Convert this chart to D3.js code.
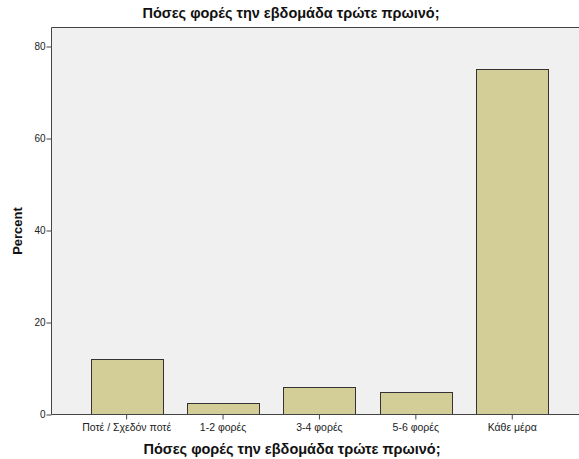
<!DOCTYPE html>
<html>
<head>
<meta charset="utf-8">
<script src="https://cdn.jsdelivr.net/npm/d3@7"></script>
<style>
  html, body { margin: 0; background: #fff; overflow: hidden; }
  svg { display: block; }
  text { font-family: "Liberation Sans", Arial, sans-serif; }
</style>
</head>
<body>
<div id="chart"></div>
<script>
// values
var categories = ["Ποτέ / Σχεδόν ποτέ", "1-2 φορές", "3-4 φορές", "5-6 φορές", "Κάθε μέρα"];
var percents = [12.0, 2.5, 5.9, 4.8, 75.1];
var yTicks = [0, 20, 40, 60, 80];
var chartTitle = "Πόσες φορές την εβδομάδα τρώτε πρωινό;";

var width = 579, height = 459;

var svg = d3.select("#chart").append("svg")
  .attr("width", width)
  .attr("height", height);

// plot frame (note: "top" is taken by window.top, so use other names)
var plotLeft = 51.5, plotTop = 27.5, plotRight = 579, plotBottom = 414.5;

// background only, borders drawn separately (no right border in the original)
svg.append("rect")
  .attr("x", plotLeft)
  .attr("y", plotTop)
  .attr("width", plotRight - plotLeft)
  .attr("height", plotBottom - plotTop)
  .attr("fill", "#f0f0f0");

svg.append("line")
  .attr("x1", plotLeft).attr("x2", plotRight)
  .attr("y1", plotTop).attr("y2", plotTop)
  .attr("stroke", "#444");

var y = d3.scaleLinear().domain([0, 80]).range([plotBottom, 46.5]);

var x = d3.scaleBand()
  .domain(categories)
  .range([66.4, 572.5])
  .padding(0.25);

// bars
svg.append("g").selectAll("rect")
  .data(percents)
  .enter().append("rect")
    .attr("x", function(d, i) { return Math.round(x(categories[i])) + 0.5; })
    .attr("y", function(d) { return Math.round(y(d)) + 0.5; })
    .attr("width", Math.round(x.bandwidth()))
    .attr("height", function(d) { return plotBottom - Math.round(y(d)) - 0.5; })
    .attr("fill", "#d3ce97")
    .attr("stroke", "#333")
    .attr("stroke-width", 1);

svg.append("line")
  .attr("x1", plotLeft).attr("x2", plotRight)
  .attr("y1", plotBottom).attr("y2", plotBottom)
  .attr("stroke", "#444");

// y axis
var yAxis = svg.append("g")
  .attr("transform", "translate(" + plotLeft + ",0)")
  .call(d3.axisLeft(y).tickValues(yTicks).tickSize(5).tickPadding(1).tickSizeOuter(0));
yAxis.select(".domain").attr("stroke", "#444").attr("d", "M0," + plotTop + "V" + plotBottom);
yAxis.selectAll(".tick line").attr("stroke", "#444");
yAxis.selectAll(".tick text")
  .attr("font-size", "10px")
  .attr("fill", "#222")
  .style("font-family", "Liberation Sans, Arial, sans-serif");

// x axis
var xAxis = svg.append("g")
  .attr("transform", "translate(0," + plotBottom + ")")
  .call(d3.axisBottom(x).tickSize(5).tickPadding(4).tickSizeOuter(0));
xAxis.select(".domain").remove();
xAxis.selectAll(".tick line").attr("stroke", "#444");
xAxis.selectAll(".tick text")
  .attr("font-size", "10.5px")
  .attr("fill", "#222")
  .style("font-family", "Liberation Sans, Arial, sans-serif");

// titles
svg.append("text")
  .attr("x", 291)
  .attr("y", 18)
  .attr("text-anchor", "middle")
  .attr("font-size", "14.5px")
  .attr("font-weight", "bold")
  .attr("fill", "#111")
  .text(chartTitle);

svg.append("text")
  .attr("x", 292)
  .attr("y", 454)
  .attr("text-anchor", "middle")
  .attr("font-size", "14.5px")
  .attr("font-weight", "bold")
  .attr("fill", "#111")
  .text(chartTitle);

svg.append("text")
  .attr("transform", "translate(22,231) rotate(-90)")
  .attr("text-anchor", "middle")
  .attr("font-size", "13px")
  .attr("font-weight", "bold")
  .attr("fill", "#111")
  .text("Percent");
</script>
</body>
</html>
